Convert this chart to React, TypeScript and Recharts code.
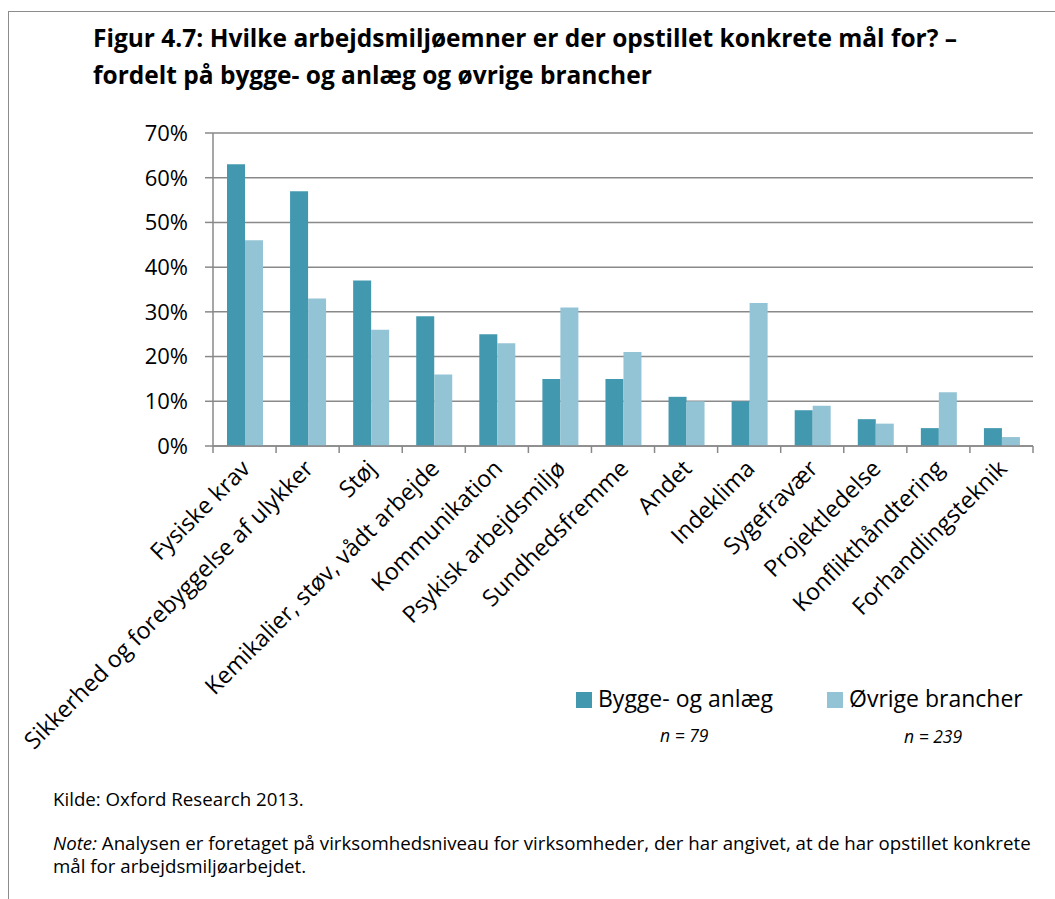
import { BarChart, Bar, XAxis, YAxis, CartesianGrid } from 'recharts';

const categories = [
    'Fysiske krav',
    'Sikkerhed og forebyggelse af ulykker',
    'Støj',
    'Kemikalier, støv, vådt arbejde',
    'Kommunikation',
    'Psykisk arbejdsmiljø',
    'Sundhedsfremme',
    'Andet',
    'Indeklima',
    'Sygefravær',
    'Projektledelse',
    'Konflikthåndtering',
    'Forhandlingsteknik',
];
const byggeValues = [63, 57, 37, 29, 25, 15, 15, 11, 10, 8, 6, 4, 4];
const ovrigeValues = [46, 33, 26, 16, 23, 31, 21, 10, 32, 9, 5, 12, 2];
const yTicks = [0, 10, 20, 30, 40, 50, 60, 70];
const seriesNames = ['Bygge- og anlæg', 'Øvrige brancher'];
const seriesN = ['n = 79', 'n = 239'];
const noteLines = [
    'Analysen er foretaget på virksomhedsniveau for virksomheder, der har angivet, at de har opstillet konkrete',
    'mål for arbejdsmiljøarbejdet.',
];

const FONT = '"Open Sans", Lato, sans-serif';
const DARK = '#4298af';
const LIGHT = '#93c4d5';
const GRID = '#898989';

const PLOT_LEFT = 213;
const PLOT_RIGHT = 1033;
const BAND = (PLOT_RIGHT - PLOT_LEFT) / categories.length;

const data = categories.map((name, i) => ({
    name,
    bygge: byggeValues[i],
    ovrige: ovrigeValues[i],
}));

function CategoryTick(props: any) {
    const { x, y, payload, index } = props;
    const last = index === categories.length - 1;
    const tx = x + 7;
    const ty = y + 24;
    return (
        <g>
            <line x1={x - BAND / 2} x2={x - BAND / 2} y1={y} y2={y + 7} stroke={GRID} strokeWidth={1.5} />
            {last && <line x1={x + BAND / 2} x2={x + BAND / 2} y1={y} y2={y + 7} stroke={GRID} strokeWidth={1.5} />}
            <text
                x={tx}
                y={ty}
                transform={`rotate(-45, ${tx}, ${ty})`}
                textAnchor="end"
                fontFamily={FONT}
                fontSize={23.3}
                fill="#000"
            >
                {payload.value}
            </text>
        </g>
    );
}

export default function App() {
    return (
        <div style={{ position: 'absolute', left: 0, top: 0, width: 1055, height: 899, background: '#fff', overflow: 'hidden', fontFamily: FONT }}>
            {/* frame */}
            <div style={{ position: 'absolute', left: 8, top: 11, width: 1047, height: 888, borderTop: '1.5px solid #8c8c8c', borderLeft: '1.5px solid #8c8c8c' }} />

            <div style={{ position: 'absolute', left: 93, top: 19, fontSize: 24.5, fontWeight: 700, lineHeight: '37px', color: '#000', whiteSpace: 'nowrap' }}>
                Figur 4.7: Hvilke arbejdsmiljøemner er der opstillet konkrete mål for? –<br />
                fordelt på bygge- og anlæg og øvrige brancher
            </div>

            <div style={{ position: 'absolute', left: 0, top: 0 }}>
                <BarChart
                    width={1055}
                    height={780}
                    data={data}
                    margin={{ top: 133, right: 1055 - PLOT_RIGHT, left: 0, bottom: 0 }}
                    barGap={0}
                    style={{ overflow: 'visible' }}
                >
                    <CartesianGrid vertical={false} stroke={GRID} strokeWidth={1.5} />
                    <XAxis
                        dataKey="name"
                        interval={0}
                        height={334}
                        tickSize={0}
                        tickMargin={0}
                        tickLine={false}
                        axisLine={{ stroke: GRID, strokeWidth: 1.5 }}
                        tick={<CategoryTick />}
                    />
                    <YAxis
                        width={PLOT_LEFT}
                        domain={[0, 70]}
                        ticks={yTicks}
                        tickFormatter={(v: number) => `${v}%`}
                        tickSize={8}
                        tickMargin={17}
                        tickLine={{ stroke: GRID, strokeWidth: 1.5 }}
                        axisLine={{ stroke: GRID, strokeWidth: 1.5 }}
                        tick={{ fontSize: 22, fill: '#000', fontFamily: FONT }}
                    />
                    <Bar dataKey="bygge" name={seriesNames[0]} fill={DARK} barSize={18} isAnimationActive={false} />
                    <Bar dataKey="ovrige" name={seriesNames[1]} fill={LIGHT} barSize={18} isAnimationActive={false} />
                </BarChart>
            </div>

            {/* legend */}
            <div style={{ position: 'absolute', left: 576, top: 692, width: 16, height: 16, background: DARK }} />
            <div style={{ position: 'absolute', left: 598, top: 683, fontSize: 23, lineHeight: '30px', color: '#000', whiteSpace: 'nowrap' }}>{seriesNames[0]}</div>
            <div style={{ position: 'absolute', left: 827, top: 692, width: 16, height: 16, background: LIGHT }} />
            <div style={{ position: 'absolute', left: 849, top: 683, fontSize: 23, lineHeight: '30px', color: '#000', whiteSpace: 'nowrap' }}>{seriesNames[1]}</div>
            <div style={{ position: 'absolute', left: 660, top: 723, fontSize: 17.5, fontStyle: 'italic', lineHeight: '24px', color: '#000', whiteSpace: 'nowrap' }}>{seriesN[0]}</div>
            <div style={{ position: 'absolute', left: 904, top: 724, fontSize: 17.5, fontStyle: 'italic', lineHeight: '24px', color: '#000', whiteSpace: 'nowrap' }}>{seriesN[1]}</div>

            {/* source and note */}
            <div style={{ position: 'absolute', left: 53, top: 789, fontSize: 18.7, lineHeight: '20px', color: '#000', whiteSpace: 'nowrap' }}>
                Kilde: Oxford Research 2013.
            </div>
            <div style={{ position: 'absolute', left: 53, top: 833, fontSize: 18.7, lineHeight: '20px', color: '#000', whiteSpace: 'nowrap' }}>
                <i style={{ marginRight: 5 }}>Note:</i>{noteLines[0]}
            </div>
            <div style={{ position: 'absolute', left: 53, top: 855.5, fontSize: 18.7, lineHeight: '20px', color: '#000', whiteSpace: 'nowrap' }}>
                {noteLines[1]}
            </div>
        </div>
    );
}
